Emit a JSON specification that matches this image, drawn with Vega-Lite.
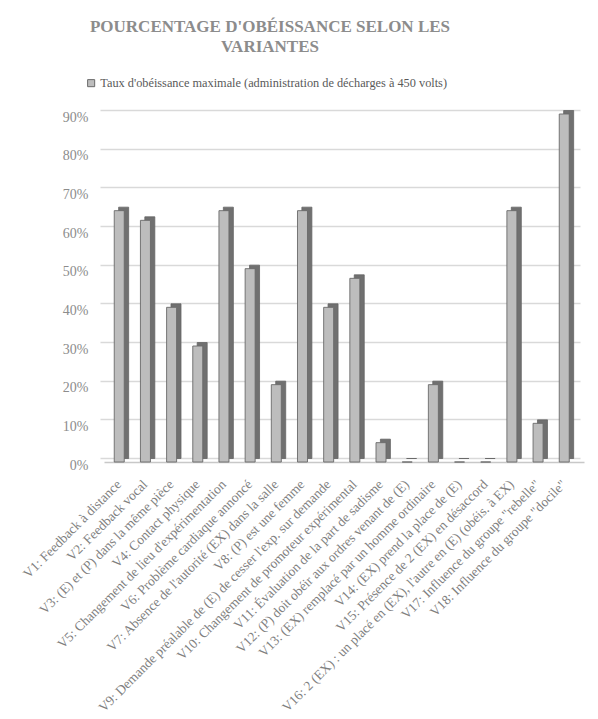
{
  "$schema": "https://vega.github.io/schema/vega-lite/v6.json",
  "width": 480,
  "height": 348,
  "autosize": "none",
  "padding": {"left": 104, "top": 114, "right": 14, "bottom": 257},
  "background": "white",
  "title": {
    "text": ["POURCENTAGE D'OBÉISSANCE SELON LES", "VARIANTES"],
    "orient": "top",
    "anchor": "middle",
    "frame": "group",
    "dx": -74,
    "offset": 21,
    "font": "Liberation Serif",
    "fontSize": 17,
    "fontWeight": "bold",
    "color": "#8c8c8c",
    "lineHeight": 20
  },
  "data": {
    "values": [
      {"variante": "V1: Feedback à distance", "taux": 0.65},
      {"variante": "V2: Feedback vocal", "taux": 0.625},
      {"variante": "V3: (E) et (P) dans la même pièce", "taux": 0.40},
      {"variante": "V4: Contact physique", "taux": 0.30},
      {"variante": "V5: Changement de lieu d'expérimentation", "taux": 0.65},
      {"variante": "V6: Problème cardiaque annoncé", "taux": 0.50},
      {"variante": "V7: Absence de l'autorité (EX) dans la salle", "taux": 0.20},
      {"variante": "V8: (P) est une femme", "taux": 0.65},
      {"variante": "V9: Demande préalable de (E) de cesser l'exp. sur demande", "taux": 0.40},
      {"variante": "V10: Changement de promoteur expérimental", "taux": 0.475},
      {"variante": "V11: Évaluation de la part de sadisme", "taux": 0.05},
      {"variante": "V12: (P) doit obéir aux ordres venant de (E)", "taux": 0.0},
      {"variante": "V13: (EX) remplacé par un homme ordinaire", "taux": 0.20},
      {"variante": "V14: (EX) prend la place de (E)", "taux": 0.0},
      {"variante": "V15: Présence de 2 (EX) en désaccord", "taux": 0.0},
      {"variante": "V16: 2 (EX) : un placé en (EX), l'autre en (E) (obéis. à EX)", "taux": 0.65},
      {"variante": "V17: Influence du groupe \"rebelle\"", "taux": 0.10},
      {"variante": "V18: Influence du groupe \"docile\"", "taux": 0.90}
    ]
  },
  "resolve": {"axis": {"y": "independent"}},
  "layer": [
    {
      "mark": {"type": "bar", "fill": "#707070", "stroke": "#666666", "strokeWidth": 0.8, "xOffset": 4.4, "yOffset": -3.5},
      "encoding": {
        "x": {"field": "variante", "type": "nominal", "sort": null},
        "y": {"field": "taux", "type": "quantitative", "axis": null}
      }
    },
    {
      "mark": {"type": "bar", "stroke": "#6a6a6a", "strokeWidth": 0.9},
      "encoding": {
        "x": {
          "field": "variante",
          "type": "nominal",
          "sort": null,
          "scale": {"paddingInner": 0.618, "paddingOuter": 0.4775, "align": 0.41},
          "axis": {
            "title": null,
            "labelAngle": -45,
            "labelAlign": "right",
            "labelBaseline": "middle",
            "labelPadding": 20,
            "labelLimit": 400,
            "labelFont": "Liberation Serif",
            "labelFontSize": 13.5,
            "labelColor": "#7f7f7f",
            "ticks": false,
            "domain": true,
            "domainColor": "#c8c8c8",
            "domainWidth": 1.5
          }
        },
        "y": {
          "field": "taux",
          "type": "quantitative",
          "scale": {"domain": [0, 0.9], "nice": false, "zero": true},
          "axis": {
            "title": null,
            "format": ".0%",
            "values": [0, 0.1, 0.2, 0.3, 0.4, 0.5, 0.6, 0.7, 0.8, 0.9],
            "tickCount": 10,
            "labelOverlap": false,
            "grid": true,
            "gridColor": "#d9d9d9",
            "gridWidth": 1.5,
            "translate": -3.5,
            "domain": false,
            "ticks": false,
            "labelPadding": 12,
            "labelOffset": 7,
            "labelFont": "Liberation Serif",
            "labelFontSize": 14,
            "labelColor": "#8c8c8c"
          }
        },
        "color": {
          "datum": "Taux d'obéissance maximale (administration de décharges à 450 volts)",
          "type": "nominal",
          "scale": {"range": ["#bdbdbd"]},
          "legend": {
            "title": null,
            "orient": "none",
            "legendX": -19,
            "legendY": -37,
            "padding": 0,
            "symbolType": "square",
            "symbolSize": 50,
            "symbolStrokeColor": "#6a6a6a",
            "symbolStrokeWidth": 1,
            "labelFont": "Liberation Serif",
            "labelFontSize": 12.3,
            "labelColor": "#595959",
            "labelLimit": 500,
            "labelOffset": 3
          }
        }
      }
    }
  ],
  "config": {
    "view": {"stroke": null}
  }
}
